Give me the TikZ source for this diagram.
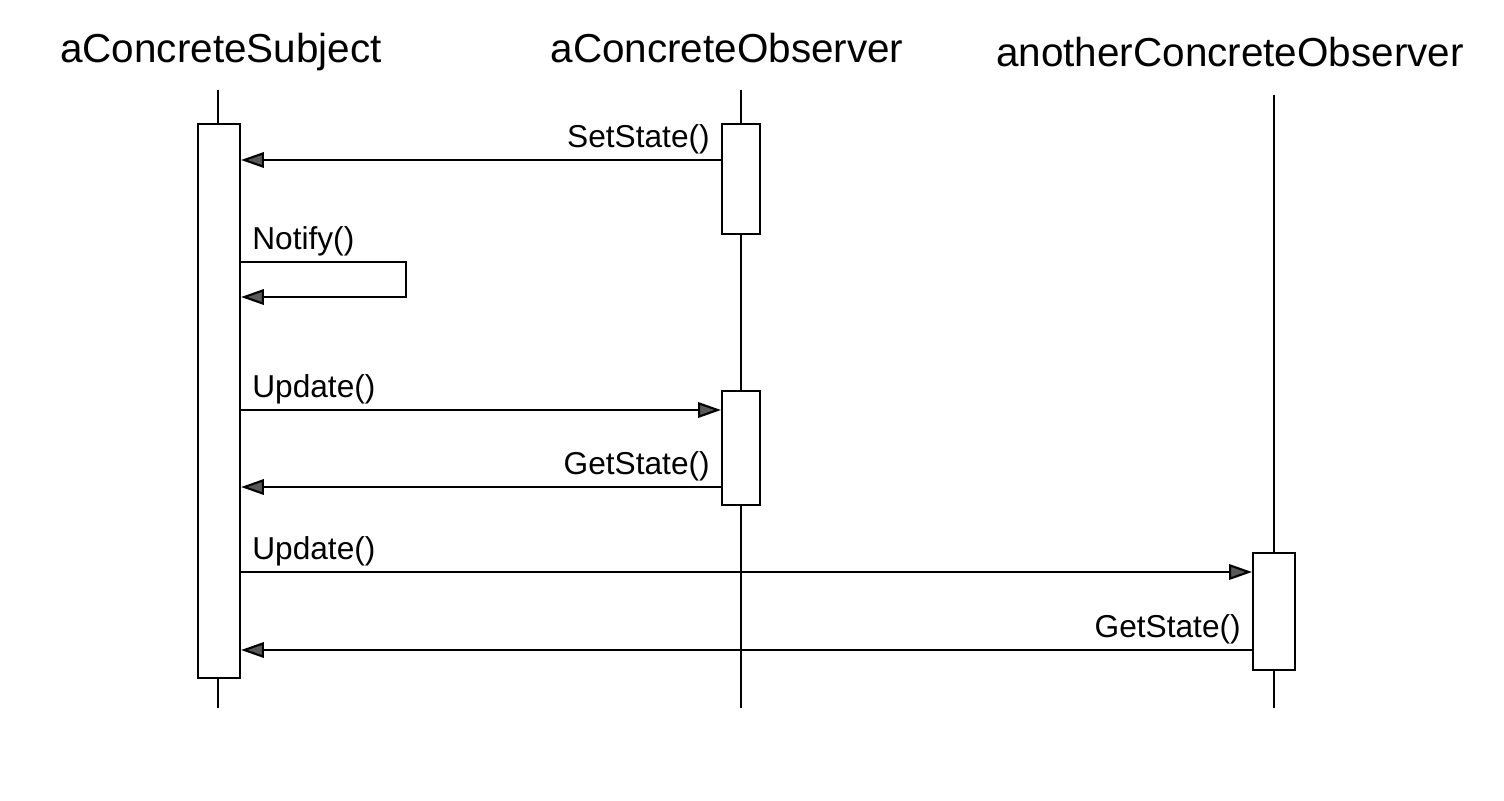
\documentclass[tikz,border=0pt]{standalone}
\usepackage{fontspec}
\setmainfont{Liberation Sans}
\usetikzlibrary{arrows.meta}

\tikzset{
	objname/.style={font=\fontsize{11.5}{13}\selectfont, inner sep=0pt, anchor=base},
	lifeline/.style={line width=0.6pt},
	actbox/.style={draw, fill=white, line width=0.6pt, inner sep=0pt},
	msg/.style={line width=0.6pt, -{Triangle[length=6.5pt,width=4.4pt,fill=black!65]}},
	lbl/.style={font=\fontsize{9}{10}\selectfont, inner xsep=3pt, inner ysep=1.5pt}
}

\begin{document}
\begin{tikzpicture}[x=0.01cm,y=-0.01cm]
				\useasboundingbox (0,0) rectangle (1504,800);
				% Objets
				\node[objname] (subj) at (221,62) {aConcreteSubject};
				\node[objname] (obs) at (727,62) {aConcreteObserver};
				\node[objname] (other) at (1230,66) {anotherConcreteObserver};
				% Lignes de vie
				\coordinate (s-top) at (218,90);
				\coordinate (s-bot) at (218,708);
				\coordinate (o-top) at (741,90);
				\coordinate (o-bot) at (741,708);
				\coordinate (a-top) at (1274,95);
				\coordinate (a-bot) at (1274,708);
				\draw[lifeline] (s-top) -- (s-bot);
				\draw[lifeline] (o-top) -- (o-bot);
				\draw[lifeline] (a-top) -- (a-bot);
				% Activations
				\node[actbox, minimum width=0.42cm, minimum height=5.54cm] (sa) at (219,401) {};
				\node[actbox, minimum width=0.38cm, minimum height=1.1cm] (oa1) at (741,179) {};
				\node[actbox, minimum width=0.38cm, minimum height=1.14cm] (oa2) at (741,448) {};
				\node[actbox, minimum width=0.42cm, minimum height=1.17cm] (aa) at (1274,611.5) {};
				% Messages
				\draw[msg] (oa1.west |- 0,160) -- (sa.east |- 0,160);
				\node[lbl, anchor=south east] (setstate) at (oa1.west |- 0,160) {SetState()};
				\coordinate (loop) at (406,262);
				\draw[msg] (sa.east |- loop) -- (loop) |- (sa.east |- 0,297);
				\node[lbl, anchor=south west] (notify) at (sa.east |- loop) {Notify()};
				\draw[msg] (sa.east |- 0,410) -- (oa2.west |- 0,410);
				\node[lbl, anchor=south west] (update1) at (sa.east |- 0,410) {Update()};
				\draw[msg] (oa2.west |- 0,487) -- (sa.east |- 0,487);
				\node[lbl, anchor=south east] (getstate1) at (oa2.west |- 0,487) {GetState()};
				\draw[msg] (sa.east |- 0,572) -- (aa.west |- 0,572);
				\node[lbl, anchor=south west] (update2) at (sa.east |- 0,572) {Update()};
				\draw[msg] (aa.west |- 0,650) -- (sa.east |- 0,650);
				\node[lbl, anchor=south east] (getstate2) at (aa.west |- 0,650) {GetState()};
\end{tikzpicture}
\end{document}
